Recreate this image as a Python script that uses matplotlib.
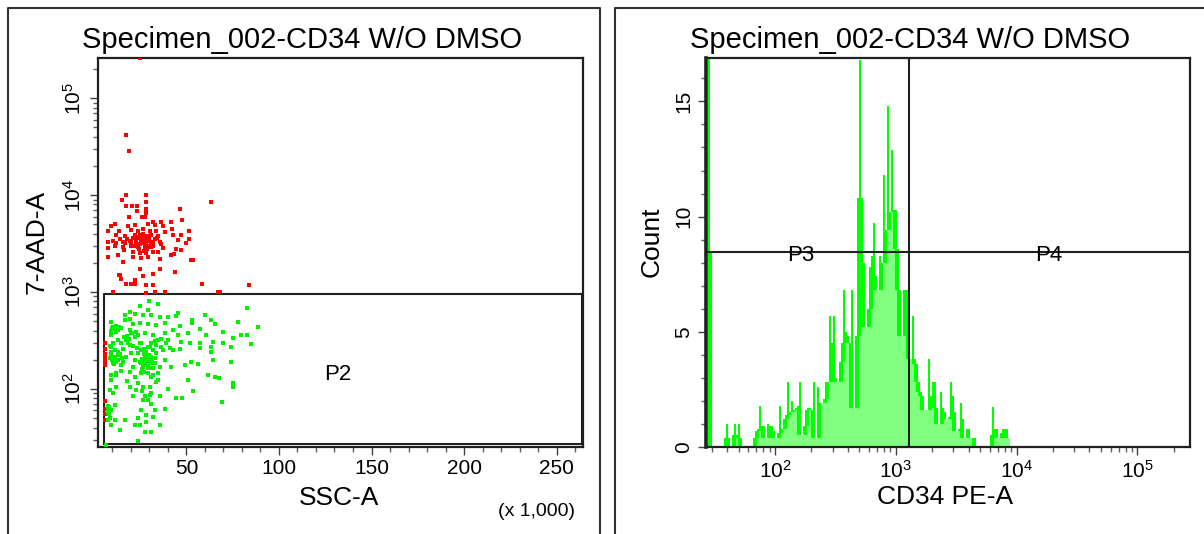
import numpy as np
import matplotlib
matplotlib.use("Agg")
import matplotlib.pyplot as plt
from matplotlib.ticker import FixedLocator, LogLocator, NullFormatter, FuncFormatter
from matplotlib.lines import Line2D

plt.rcParams['font.family'] = ['Liberation Sans', 'DejaVu Sans']
plt.rcParams['mathtext.fontset'] = 'custom'
plt.rcParams['mathtext.rm'] = 'Liberation Sans'
plt.rcParams['mathtext.it'] = 'Liberation Sans:italic'
plt.rcParams['mathtext.bf'] = 'Liberation Sans:bold'

# ---------------- data ----------------
title_text = "Specimen_002-CD34 W/O DMSO"

# Left panel: SSC-A (x 1,000) vs 7-AAD-A
red_ssc = [24.9, 17.6, 18.8, 17.6, 28.4, 15.2, 28.4, 63.4, 17.6, 20.4, 23.3, 28.4, 46.4, 23.3, 28.4,
           18.8, 26.6, 27.4, 25.8, 47.6, 41.8, 36.4, 31.9,
           11.6, 9.1, 18.5, 22.1, 29.3, 32.9, 37.4, 42.2, 51.2,
           7.7, 13.4, 20.3, 23.9, 26.6, 30.2, 33.8, 38.3,
           12.2, 16.7, 22.1, 24.8, 27.5, 31.1, 34.7, 42.8, 47.3,
           7.7, 12.2, 15.8, 19.4, 23.0, 25.7, 29.3, 32.0, 35.6, 45.5, 51.2, 50.0,
           7.7, 11.3, 15.8, 20.3, 23.9, 27.5, 31.1, 37.4, 44.6, 47.3,
           13.1, 21.2, 24.8, 28.4, 32.0, 34.7, 41.9,
           7.7, 15.8, 21.2, 25.7, 29.3, 35.6, 52.3, 53.6,
           24.0, 26.0, 28.0, 30.0, 25.0, 27.0, 29.0, 31.0, 24.5, 28.5, 22.5, 33.0, 26.5, 29.5,
           21.0, 18.0, 17.0, 14.0, 10.5, 16.0, 27.0,
           23.0, 25.5, 27.5, 29.5, 31.5, 24.0, 26.0, 28.0, 30.0, 32.0, 20.0, 22.0, 34.0, 36.0,
           43.3, 24.7, 35.6, 31.9, 44.0, 13.4, 14.9, 26.6, 17.6, 20.3, 22.4, 22.4, 28.4, 31.9,
           58.4, 10.4, 28.4, 33.2, 38.3, 67.0, 68.0, 84.0, 14.2,
           6.2, 6.2, 6.2, 6.2, 6.2, 6.2, 6.0, 6.0, 6.2, 6.0]
red_aad = [257000, 41700, 28600, 10000, 10000, 9000, 8500, 8500, 7700, 7700, 7700, 7200, 7200, 6900, 6600,
           6000, 6000, 6000, 5900, 5600, 5300, 5300, 5300,
           5020, 4790, 4790, 4900, 5020, 4900, 4790, 4420, 4290,
           4290, 4290, 4360, 4290, 4420, 4290, 4290, 4190,
           3870, 3780, 3870, 3870, 3780, 3870, 3780, 3870, 3870,
           3300, 3220, 3300, 3380, 3440, 3300, 3440, 3300, 3300, 3440, 3520, 3170,
           2820, 2980, 2930, 2980, 2890, 2930, 2930, 2820, 2750, 2710,
           2400, 2600, 2540, 2500, 2600, 2600, 2400,
           2310, 2050, 2310, 2220, 2310, 2170, 2140, 2140,
           3600, 3500, 3600, 3400, 3100, 3200, 3000, 3100, 2800, 2750, 3100, 3550, 4000, 3800,
           3600, 3500, 3200, 3500, 3400, 2700, 2650,
           3700, 3750, 3450, 3650, 3250, 2950, 3350, 3250, 3700, 3000, 3250, 2950, 3600, 3150,
           2460, 1740, 1720, 1550, 1620, 1500, 1350, 1450, 1210, 1210, 1210, 1340, 1180, 1180,
           1210, 1000, 980, 1000, 1000, 1000, 1000, 1180, 1500,
           300, 260, 230, 210, 190, 175, 75, 62, 55, 48]

green_ssc = [29.6, 34.7, 24.8, 29.3, 19.4, 16.7, 22.4, 26.6, 30.7, 35.6, 40.1, 45.5, 44.6, 59.9, 63.5,
             53.0, 53.0, 65.3, 77.9, 82.9, 88.7, 9.1, 19.4, 21.2, 24.8, 29.3, 33.8, 38.3, 46.4, 42.8,
             50.9, 57.2, 45.5, 40.1, 39.2, 41.0, 47.3, 51.8, 57.2, 60.8, 69.8, 79.3, 82.9, 75.2, 64.4,
             69.8, 85.1, 63.5, 57.2, 74.3, 46.4, 42.8, 36.5, 63.1, 64.4, 74.3, 52.7, 56.3, 49.1, 41.5,
             61.7, 65.3, 67.4, 50.9, 75.2, 75.2, 34.7, 40.1, 53.6, 35.6, 44.2, 47.8, 69.4, 38.3, 32.9,
             32.0, 28.4, 25.7, 23.9, 35.6, 22.1, 24.8, 28.4, 27.5, 31.1, 23.9, 14.0, 16.7, 11.3, 9.5,
             6.8, 7.7, 7.7, 9.5, 11.3, 10.4, 8.6, 12.2, 19.4, 23.0, 21.2, 27.5, 30.2, 29.3, 31.1,
             26.6, 26.6, 30.2, 33.8, 31.1, 9.5, 12.2, 14.9, 14.9, 9.5, 19.4, 22.1, 25.7, 29.3, 34.7,
             35.6, 21.2, 22.1, 20.3, 17.6, 13.1, 11.3, 9.5, 8.6, 10.4, 13.1, 15.8, 19.4, 17.6, 13.1,
             10.4, 14.9, 9.5, 12.2, 14.9, 13.4, 20.3, 22.1, 19.4, 23.9, 27.5, 32.0, 34.7, 33.8, 31.1,
             28.4, 25.7, 27.5, 29.3, 31.1, 24.8, 26.6, 29.3, 32.0, 32.9, 25.7, 23.9, 30.2, 33.8, 32.9,
             38.3, 16.7, 38.3,
             27.0, 28.0, 29.0, 30.0, 28.0, 27.0, 29.0, 31.0, 26.0, 30.0, 28.0, 27.0, 29.0, 32.0, 26.0, 30.0,
             10.0, 11.0, 12.0, 9.0, 13.0, 10.0, 11.0, 12.0, 9.0, 13.0, 11.0, 19.0, 18.0,
             7.5, 8.0, 8.5, 7.5, 8.0,
             27.5, 28.5, 29.5, 30.5, 26.5, 27.5, 28.5, 29.5, 30.5, 28.0, 29.0, 27.0, 31.5, 25.5,
             10.5, 11.5, 12.5, 9.5, 10.5, 11.5, 14.0, 15.0, 16.5, 18.5, 21.0, 23.5, 25.0, 33.0,
             36.5, 37.5, 32.0, 24.0, 26.0, 18.0, 12.0, 8.5, 9.0, 15.5, 20.5, 22.5, 27.0, 31.0]
green_aad = [815, 752, 717, 652, 627, 579, 593, 579, 579, 557, 548, 603, 566, 579, 515,
             515, 475, 468, 494, 678, 432, 487, 523, 468, 475, 468, 457, 475, 446, 406,
             381, 412, 360, 320, 296, 263, 308, 300, 300, 360, 390, 360, 360, 333, 308,
             300, 291, 273, 263, 273, 256, 252, 273, 243, 199, 191, 191, 181, 177, 170,
             139, 134, 129, 124, 114, 104, 124, 100, 96, 85, 81, 81, 73, 62, 60,
             52, 54, 61, 50, 43, 43, 43, 46, 36, 36, 29, 38, 48, 48, 43,
             26.5, 66, 56, 61, 68, 90, 98, 106, 106, 98, 85, 85, 87, 77, 90,
             77, 106, 106, 119, 132, 139, 145, 155, 177, 124, 151, 134, 145, 145, 145,
             170, 170, 199, 233, 216, 243, 252, 273, 207, 184, 199, 191, 284, 320, 320,
             296, 296, 360, 390, 422, 432, 375, 347, 406, 360, 375, 360, 320, 284, 296,
             243, 252, 207, 191, 216, 191, 170, 163, 163, 184, 296, 233, 273, 233, 207,
             199, 515, 375,
             230, 220, 210, 200, 195, 185, 178, 185, 205, 225, 240, 260, 270, 250, 160, 165,
             430, 420, 445, 400, 410, 200, 210, 190, 220, 225, 180, 330, 350,
             60, 55, 50, 48, 65,
             215, 205, 195, 190, 200, 180, 175, 170, 215, 235, 225, 245, 195, 185,
             440, 425, 415, 395, 205, 215, 230, 210, 340, 300, 280, 265, 300, 310,
             330, 250, 140, 115, 95, 120, 140, 280, 240, 260, 380, 390, 150, 70]

# P2 gate (SSC x1000, 7-AAD)
p2_ssc = (5.5, 263.5)
p2_aad = (27, 960)

# Right panel: CD34 PE-A histogram (bins of 1/60 decade starting at 10^1.43)
hist_log_start = 1.43
hist_bins_per_decade = 60
hist_counts = [
    0, 25, 8.5, 0, 0, 0, 0, 0, 0, 0.4,                      # 0-9
    1.0, 0.4, 0, 0.5, 1.0, 0.5, 1.0, 0.4, 0, 0,              # 10-19
    0, 0, 0, 0.4, 0.7, 0.8, 1.8, 0.9, 0.9, 0.4,              # 20-29
    1.0, 0.9, 0.9, 0.7, 0.4, 0.6, 1.8, 0.8, 1.2, 1.4,        # 30-39
    2.8, 1.5, 2.0, 1.6, 1.7, 1.8, 2.8, 0.5, 0.9, 1.6,        # 40-49
    1.7, 1.7, 1.6, 2.8, 0.4, 2.6, 1.9, 1.9, 2.1, 2.8,        # 50-59
    2.8, 5.7, 4.5, 5.7, 3.0, 2.8, 3.7, 4.5, 6.8, 5.0,        # 60-69
    4.8, 4.5, 6.8, 1.7, 4.8, 10.8, 16.8, 10.8, 8.0, 5.2,     # 70-79
    6.0, 7.8, 8.3, 9.7, 7.4, 6.8, 8.3, 8.0, 11.8, 9.4,       # 80-89
    14.8, 10.2, 12.9, 10.3, 10.3, 8.6, 6.8, 4.8, 6.8, 6.8,   # 90-99
    5.5, 3.8, 5.7, 3.8, 3.6, 2.8, 2.4, 2.2, 1.6, 1.6,        # 100-109
    3.8, 2.2, 2.8, 2.8, 1.7, 1.0, 2.4, 1.7, 1.5, 1.2,        # 110-119
    1.3, 2.8, 2.2, 1.5, 0.7, 0.8, 1.9, 1.2, 0.4, 0.8,        # 120-129
    0.8, 0.4, 0.4, 0.4, 0, 0, 0, 0, 0, 0,                    # 130-139
    0, 0.5, 1.75, 0.8, 0.8, 0.4, 0.6, 0.8, 0.8, 0.8,         # 140-149
    0.4,                                                      # 150
]
gate_p3_p4_x = 1281
gate_count_y = 8.48

# ---------------- figure ----------------
W, H = 1204, 534
fig = plt.figure(figsize=(W / 100, H / 100), dpi=100)

def fx(px):
    return px / W

def fy(py):
    return 1 - py / H

# panel frames
frame_kw = dict(color='#303030', lw=1.5, transform=fig.transFigure, clip_on=False)
fig.add_artist(Line2D([fx(8), fx(8), fx(600), fx(600)], [fy(540), fy(8), fy(8), fy(540)], **frame_kw))
fig.add_artist(Line2D([fx(615), fx(615), fx(1210)], [fy(540), fy(8), fy(8)], **frame_kw))

ax1 = fig.add_axes([fx(97.6), fy(447), fx(582.5 - 97.6), (447 - 57.6) / H])
ax2 = fig.add_axes([fx(706), fy(447), fx(1189.5 - 706), (447 - 57.6) / H])

tick_fs = 15
label_fs = 19

for ax in (ax1, ax2):
    for s in ax.spines.values():
        s.set_linewidth(1.6)
        s.set_color('#202020')
    ax.tick_params(which='major', direction='out', length=6, width=1.0, color='#404040',
                   labelsize=tick_fs, pad=3)
    ax.tick_params(which='minor', direction='out', length=3.5, width=1.0, color='#606060')
    ax.tick_params(axis='y', labelrotation=90)
ax2.spines['left'].set_linewidth(2.6)

# ---- left: dot plot ----
ax1.set_yscale('log')
ax1.set_xlim(2, 264)
ax1.set_ylim(25.2, 262144)
ax1.plot(red_ssc, red_aad, 's', ms=2.4, mew=0, color='#ff0000', zorder=3)
ax1.plot(green_ssc, green_aad, 's', ms=2.4, mew=0, color='#00f000', zorder=3)
ax1.plot([p2_ssc[0], p2_ssc[0], p2_ssc[1], p2_ssc[1], p2_ssc[0]],
         [p2_aad[0], p2_aad[1], p2_aad[1], p2_aad[0], p2_aad[0]],
         color='#202020', lw=1.5, zorder=2, clip_on=False)
ax1.text(132, 140, 'P2', fontsize=16, ha='center', va='center')
ax1.xaxis.set_major_locator(FixedLocator([50, 100, 150, 200, 250]))
ax1.xaxis.set_minor_locator(FixedLocator(list(range(10, 261, 10))))
ax1.yaxis.set_major_locator(LogLocator(base=10, numticks=10))
ax1.yaxis.set_minor_locator(LogLocator(base=10, subs=np.arange(2, 10), numticks=20))
ax1.yaxis.set_minor_formatter(NullFormatter())
ax1.yaxis.set_major_formatter(FuncFormatter(lambda v, p: r'$10^{%d}$' % round(np.log10(v))))
for lab in ax1.get_yticklabels():
    lab.set_va('center')

# ---- right: histogram ----
counts = np.array(hist_counts, dtype=float)
n = len(counts)
edges = 10 ** (hist_log_start + np.arange(n + 1) / hist_bins_per_decade)
env = counts.copy()
for shift in (1, 2):
    env[shift:] = np.minimum(env[shift:], counts[:-shift])
    env[:-shift] = np.minimum(env[:-shift], counts[shift:])
ax2.set_xscale('log')
ax2.set_xlim(26.8, 2.7e5)
ax2.set_ylim(0, 16.9)
ax2.stairs(counts, edges, fill=True, color='#00ff00', lw=0, zorder=1)
ax2.stairs(env, edges, fill=True, color='#80ff80', lw=0, zorder=2)
ax2.axvline(gate_p3_p4_x, color='#202020', lw=1.5, zorder=3)
ax2.axhline(gate_count_y, color='#202020', lw=1.5, zorder=3)
ax2.text(163, 8.3, 'P3', fontsize=16, ha='center', va='center', zorder=4)
ax2.text(18600, 8.3, 'P4', fontsize=16, ha='center', va='center', zorder=4)
ax2.xaxis.set_major_locator(LogLocator(base=10, numticks=10))
ax2.xaxis.set_minor_locator(LogLocator(base=10, subs=np.arange(2, 10), numticks=20))
ax2.xaxis.set_minor_formatter(NullFormatter())
ax2.xaxis.set_major_formatter(FuncFormatter(lambda v, p: r'$10^{%d}$' % round(np.log10(v))))
ax2.yaxis.set_major_locator(FixedLocator([0, 5, 10, 15]))
ax2.yaxis.set_minor_locator(FixedLocator(list(range(0, 17))))
ax2.yaxis.set_major_formatter(FuncFormatter(lambda v, p: '%d' % v))
for lab in ax2.get_yticklabels():
    lab.set_va('center')

# titles and labels
fig.text(fx(302.5), fy(40), title_text, fontsize=21, ha='center', va='center')
fig.text(fx(910), fy(40), title_text, fontsize=21, ha='center', va='center')
fig.text(fx(339), fy(498), 'SSC-A', fontsize=label_fs, ha='center', va='center')
fig.text(fx(537), fy(512), '(x 1,000)', fontsize=14, ha='center', va='center')
fig.text(fx(945), fy(497), 'CD34 PE-A', fontsize=label_fs, ha='center', va='center')
fig.text(fx(36.5), fy(242), '7-AAD-A', fontsize=label_fs, ha='center', va='center', rotation=90)
fig.text(fx(652), fy(242), 'Count', fontsize=label_fs, ha='center', va='center', rotation=90)

fig.savefig('out.png', dpi=100)
